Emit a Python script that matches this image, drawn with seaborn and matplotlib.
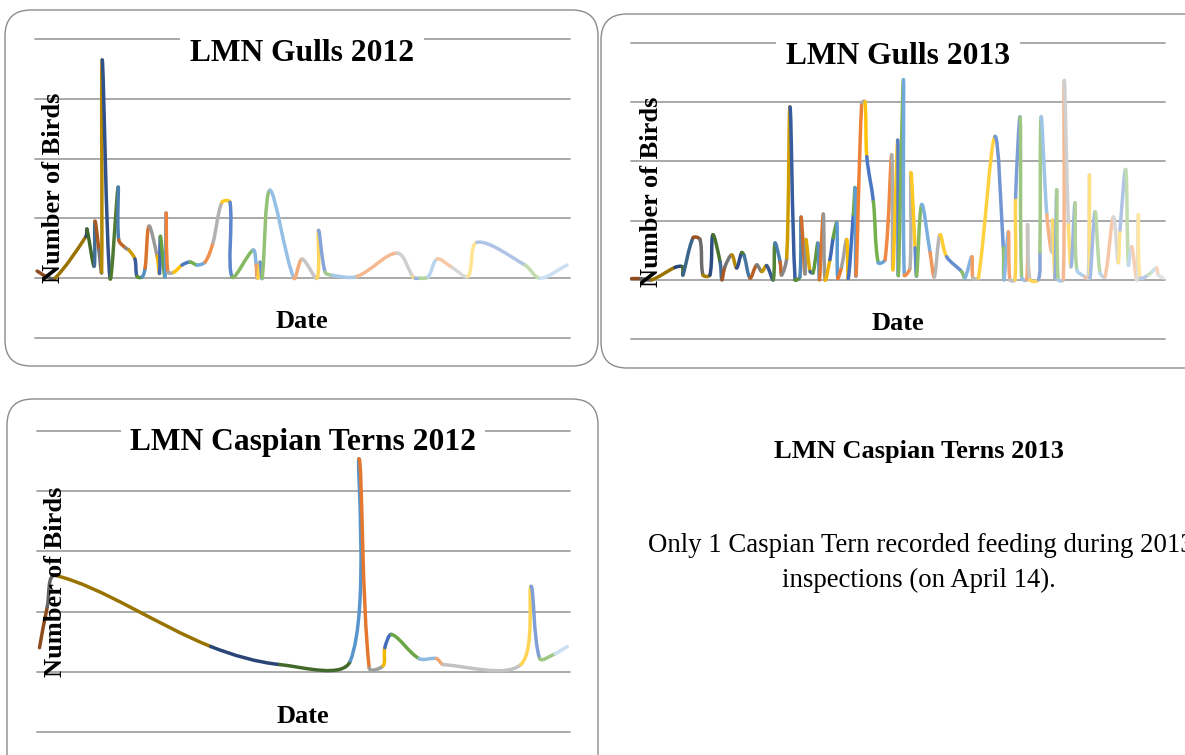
import math
import numpy as np
import matplotlib
matplotlib.use("Agg")
import matplotlib.pyplot as plt
import seaborn as sns
from matplotlib.path import Path
from matplotlib.patches import PathPatch, FancyBboxPatch

# ---- data: day of season vs. number of birds counted ----
gulls12_day = [0.7, 4.0, 6.7, 17.0, 17.3, 19.7, 20.0, 21.3, 22.2, 22.4,
               25.0, 27.7, 27.9, 30.3, 31.3, 33.3, 34.0, 35.7, 36.7, 38.0,
               40.7, 41.5, 41.8, 43.3, 43.7, 44.3, 46.3, 49.0, 51.7, 54.0,
               56.7, 59.3, 62.3, 65.0, 65.7, 72.7, 73.7, 74.0, 74.3, 75.0,
               75.7, 78.3, 86.3, 89.0, 94.0, 94.5, 96.7, 99.0, 107.3, 120.7,
               126.0, 126.7, 128.3, 131.0, 134.0, 139.0, 144.3, 147.3, 163.3, 168.3,
               177.3]
gulls12_count = [12, 2, 0, 70, 82, 20, 95, 47, 10, 365,
                 0, 152, 64, 50, 47, 32, 3, 2, 17, 87,
                 37, 8, 70, 2, 109, 10, 10, 22, 27, 22,
                 27, 59, 127, 127, 2, 47, 22, 0, 0, 27,
                 0, 147, 0, 32, 0, 80, 10, 5, 3, 42,
                 2, 0, 0, 2, 32, 18, 3, 60, 22, 0,
                 22]

gulls13_day = [0.2, 3.3, 6.9, 14.7, 17.1, 17.3, 20.7, 23.0, 24.0, 26.3,
               27.3, 29.7, 30.3, 31.3, 33.6, 35.2, 36.9, 37.7, 39.7, 41.9,
               43.6, 45.2, 47.4, 48.0, 49.7, 50.2, 51.9, 53.0, 54.7, 56.3,
               56.7, 58.0, 58.3, 59.7, 60.7, 62.3, 62.8, 64.1, 64.7, 66.3,
               67.4, 68.6, 68.9, 70.2, 71.9, 72.4, 74.1, 74.7, 75.0, 76.9,
               78.0, 78.6, 80.8, 82.4, 84.7, 86.9, 87.3, 88.9, 89.1, 90.8,
               91.1, 93.0, 93.3, 94.7, 95.2, 96.9, 99.7, 101.1, 103.0, 105.2,
               110.2, 111.3, 113.6, 114.0, 115.8, 121.3, 124.1, 124.3, 125.8, 126.3,
               128.0, 128.2, 129.7, 130.2, 131.9, 132.2, 133.0, 135.8, 136.3, 136.7,
               138.6, 140.2, 140.5, 141.3, 141.9, 142.4, 144.1, 144.4, 145.8, 146.7,
               148.0, 148.6, 151.3, 152.4, 152.8, 153.0, 154.7, 156.3, 158.0, 160.8,
               162.4, 163.0, 164.9, 165.8, 166.9, 168.6, 169.1, 169.7, 172.4, 173.7,
               175.2, 175.8, 177.4]
gulls13_count = [2, 2, 0, 21, 22, 8, 71, 68, 8, 8,
                 76, 30, 0, 22, 42, 20, 46, 41, 3, 25,
                 14, 24, 0, 62, 30, 8, 37, 292, 0, 5,
                 106, 10, 68, 14, 12, 62, 0, 111, 0, 34,
                 71, 96, 3, 22, 68, 2, 110, 155, 7, 299,
                 301, 208, 132, 29, 34, 211, 17, 236, 7, 338,
                 8, 20, 181, 54, 7, 127, 46, 5, 76, 39,
                 14, 3, 39, 3, 3, 242, 54, 0, 81, 0,
                 0, 139, 274, 3, 0, 93, 0, 0, 47, 275,
                 110, 47, 101, 3, 152, 0, 0, 336, 93, 22,
                 130, 17, 5, 3, 177, 3, 115, 12, 5, 106,
                 29, 84, 186, 25, 56, 0, 110, 3, 8, 14,
                 20, 8, 3]

terns12_day = [0.5, 3.1, 5.9, 57.6, 80.6, 104.1, 107.0, 110.4, 115.0, 115.6,
               117.9, 127.0, 132.8, 135.1, 160.9, 164.3, 167.2, 172.3, 176.4]
terns12_count = [2.0, 5.4, 8.0, 2.1, 0.6, 0.9, 17.7, 0.3, 0.5, 2.0,
                 3.1, 1.1, 1.1, 0.6, 0.6, 7.1, 1.1, 1.5, 2.1]

OFFICE = ["#5B9BD5", "#ED7D31", "#A5A5A5", "#FFC000", "#4472C4", "#70AD47"]
W, H = 1185, 755

sns.set_theme(style="white")
plt.rcParams["font.family"] = ["Liberation Serif", "DejaVu Serif"]
plt.rcParams["text.color"] = "black"


def point_colors(n):
    # excel "vary colors by point": accents cycle, shade goes dark -> pale
    base = sns.color_palette(OFFICE)
    levels = math.ceil(n / 6)
    shades = np.linspace(-0.4, 0.68, levels)
    cols = []
    for i in range(n):
        r, g, b = base[i % 6]
        t = shades[i // 6]
        if t < 0:
            cols.append((r * (1 + t), g * (1 + t), b * (1 + t)))
        else:
            cols.append((r + (1 - r) * t, g + (1 - g) * t, b + (1 - b) * t))
    return cols


def smooth_line(ax, x, y, lw=2.5):
    # bezier through the points, tangents split by neighbouring chord lengths
    # (worked out on screen so the curve does not overshoot on spikes)
    pts = ax.transData.transform(np.column_stack([x, y]).astype(float))
    n = len(pts)
    c_in = pts.copy()
    c_out = pts.copy()
    for j in range(n):
        prev = pts[max(j - 1, 0)]
        nxt = pts[min(j + 1, n - 1)]
        a = np.hypot(*(pts[j] - prev))
        b = np.hypot(*(nxt - pts[j]))
        if a + b == 0:
            continue
        tan = nxt - prev
        c_out[j] = pts[j] + tan * b / (a + b) / 3
        c_in[j] = pts[j] - tan * a / (a + b) / 3
    inv = ax.transData.inverted()
    cols = point_colors(n)
    for i in range(n - 1):
        verts = inv.transform(np.array([pts[i], c_out[i], c_in[i + 1], pts[i + 1]]))
        path = Path(verts, [Path.MOVETO, Path.CURVE4, Path.CURVE4, Path.CURVE4])
        ax.add_patch(PathPatch(path, fill=False, edgecolor=cols[i + 1], lw=lw,
                               capstyle="round", joinstyle="round", clip_on=False))


def fx(px):
    return px / W


def fy(py):
    return 1 - py / H


def panel(box, x, y, xlim, ylim, step, title, title_xy, ylab_xy, date_xy):
    x0, y0, x1, y1 = box
    ax = fig.add_axes([fx(x0), fy(y1), (x1 - x0) / W, (y1 - y0) / H])
    ax.set_facecolor("none")
    ax.set_xlim(xlim)
    ax.set_ylim(ylim)
    ax.set_yticks(np.arange(ylim[0], ylim[1] + step / 2, step))
    ax.set_xticks([])
    ax.tick_params(left=False, labelleft=False)
    ax.set_axisbelow(True)
    ax.grid(axis="y", color="#a3a3a3", lw=1.3)
    for gl in ax.get_ygridlines():
        gl.set_clip_on(False)
    sns.despine(ax=ax, left=True, bottom=True)
    smooth_line(ax, x, y)
    ax.text(fx(title_xy[0]), fy(title_xy[1]), title, transform=fig.transFigure,
            ha="center", va="baseline", fontsize=22.7, fontweight="bold",
            zorder=0.8, clip_on=False,
            bbox=dict(boxstyle="square,pad=0.3", fc="white", ec="none"))
    fig.text(fx(ylab_xy[0]), fy(ylab_xy[1]), "Number of Birds", rotation=90,
             ha="center", va="center", fontsize=19, fontweight="bold")
    fig.text(fx(date_xy[0]), fy(date_xy[1]), "Date",
             ha="center", va="baseline", fontsize=19, fontweight="bold")
    return ax


fig = plt.figure(figsize=(W / 100, H / 100), dpi=100)

# rounded chart frames (inches)
for bx, by, bw, bh in [(0.05, 3.89, 5.93, 3.56), (6.01, 3.87, 6.2, 3.54),
                       (0.07, -0.3, 5.91, 3.86)]:
    fig.add_artist(FancyBboxPatch((bx, by), bw, bh,
                                  boxstyle="round,pad=0,rounding_size=0.26",
                                  transform=fig.dpi_scale_trans, fc="white",
                                  ec="#8c8c8c", lw=1.0, zorder=-5))

panel((35, 39, 570, 338), gulls12_day, gulls12_count, (0, 178.3), (-100, 400), 100,
      "LMN Gulls 2012", (302, 61), (54, 188), (302, 328))
panel((631, 43, 1165, 339), gulls13_day, gulls13_count, (0, 178.0), (-100, 400), 100,
      "LMN Gulls 2013", (898, 64), (652, 192), (898, 330))
panel((37, 431, 570, 732), terns12_day, terns12_count, (-0.33, 177.3), (-5, 20), 5,
      "LMN Caspian Terns 2012", (303, 450), (56, 582), (303, 723))

# 2013 tern panel is just text
fig.text(fx(919), fy(458), "LMN Caspian Terns 2013", ha="center", va="baseline",
         fontsize=19, fontweight="bold")
fig.text(fx(921), fy(552), "Only 1 Caspian Tern recorded feeding during 2013",
         ha="center", va="baseline", fontsize=19.3)
fig.text(fx(919), fy(587), "inspections (on April 14).",
         ha="center", va="baseline", fontsize=19.3)

fig.savefig("out.png", dpi=100, facecolor="white")
